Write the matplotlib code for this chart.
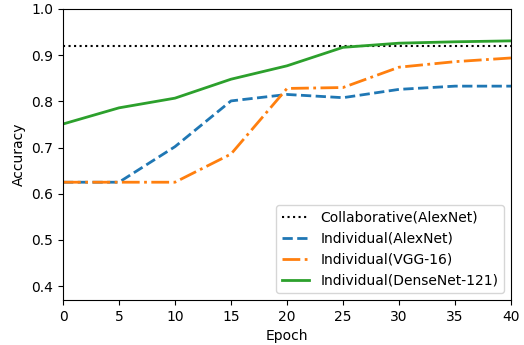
import matplotlib
matplotlib.use('Agg')
import matplotlib.pyplot as plt

epochs = [0, 5, 10, 15, 20, 25, 30, 35, 40]
collab_alexnet = 0.92
alexnet = [0.625, 0.625, 0.702, 0.801, 0.815, 0.808, 0.826, 0.833, 0.833]
vgg16 = [0.625, 0.625, 0.625, 0.686, 0.828, 0.830, 0.874, 0.886, 0.894]
densenet = [0.751, 0.786, 0.807, 0.848, 0.877, 0.917, 0.926, 0.929, 0.931]

fig = plt.figure(figsize=(5.24, 3.45), dpi=100)
ax = fig.add_axes([63/524, 45/345, 448/524, 291/345])

ax.axhline(collab_alexnet, color='black', linestyle=':', linewidth=1.5, label='Collaborative(AlexNet)')
ax.plot(epochs, alexnet, color='#1f77b4', linestyle='--', linewidth=2, label='Individual(AlexNet)')
ax.plot(epochs, vgg16, color='#ff7f0e', linestyle='-.', linewidth=2, label='Individual(VGG-16)')
ax.plot(epochs, densenet, color='#2ca02c', linestyle='-', linewidth=2, label='Individual(DenseNet-121)')

ax.set_xlim(0, 40)
ax.set_ylim(0.37, 1.0)
ax.set_xticks(range(0, 41, 5))
ax.set_yticks([0.4, 0.5, 0.6, 0.7, 0.8, 0.9, 1.0])
ax.set_xlabel('Epoch')
ax.set_ylabel('Accuracy')
ax.legend(loc='lower right')

fig.savefig('out.png', dpi=100)
